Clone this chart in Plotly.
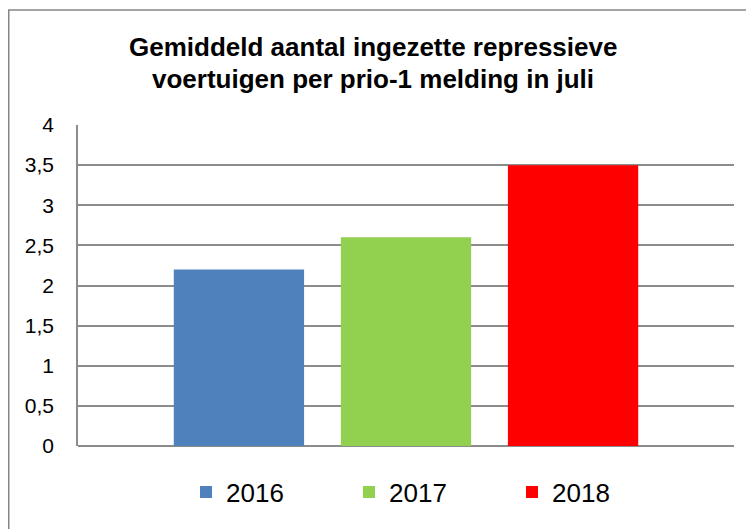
import plotly.graph_objects as go

years = ["2016", "2017", "2018"]
values = [2.2, 2.6, 3.5]
colors = ["#4F81BD", "#92D050", "#FF0000"]
title_lines = ["Gemiddeld aantal ingezette repressieve", "voertuigen per prio-1 melding in juli"]
y_ticks = [0, 0.5, 1, 1.5, 2, 2.5, 3, 3.5, 4]

FONT = "Liberation Sans, Arial, sans-serif"
# the page body adds an 8px offset, so the figure is 8px smaller than the window
W, H = 746, 521
L, R, T, B = 70, 20, 117, 83
pw, ph = W - L - R, H - T - B

fig = go.Figure()
for yr, v, c in zip(years, values, colors):
    fig.add_trace(go.Bar(x=[""], y=[v], name=yr, marker=dict(color=c, line=dict(width=0))))

def px_to_paper_x(px):
    return (px - L) / pw

def px_to_paper_y(py):
    return 1 - (py - T) / ph

fig.add_shape(type="rect", xref="paper", yref="paper",
              x0=px_to_paper_x(0.75), x1=px_to_paper_x(760),
              y0=px_to_paper_y(540), y1=px_to_paper_y(2),
              line=dict(color="#868686", width=1.5), fillcolor="rgba(0,0,0,0)", layer="below")

for line, ypx in zip(title_lines, [39.5, 70.5]):
    fig.add_annotation(text=line, xref="paper", yref="paper", x=px_to_paper_x(365), xanchor="center",
                       y=px_to_paper_y(ypx), yanchor="middle", showarrow=False,
                       font=dict(family=FONT, size=26, color="black", weight="bold"))

fig.update_layout(
    width=W, height=H,
    margin=dict(l=L, r=R, t=T, b=B, autoexpand=False),
    paper_bgcolor="white", plot_bgcolor="white",
    separators=", ",
    font=dict(family=FONT, color="black", size=21),
    barmode="group", bargap=0.236, bargroupgap=0.22,
    showlegend=True,
    legend=dict(orientation="h", x=px_to_paper_x(178), xanchor="left",
                y=px_to_paper_y(484), yanchor="middle",
                font=dict(size=26), entrywidth=118, entrywidthmode="pixels",
                bgcolor="rgba(0,0,0,0)"),
    xaxis=dict(showticklabels=False, showgrid=False, showline=False, zeroline=False,
               fixedrange=True, automargin=False),
    yaxis=dict(range=[0, 4], tickvals=y_ticks, tickformat=",", showgrid=True, gridcolor="#8c8c8c",
               gridwidth=1.5, showline=True, linecolor="#8c8c8c", linewidth=1.5,
               zeroline=True, zerolinecolor="#8c8c8c", zerolinewidth=1.5, automargin=False,
               ticks="", ticklabelstandoff=18, tickfont=dict(size=21)),
)

fig.write_html("out.html")
